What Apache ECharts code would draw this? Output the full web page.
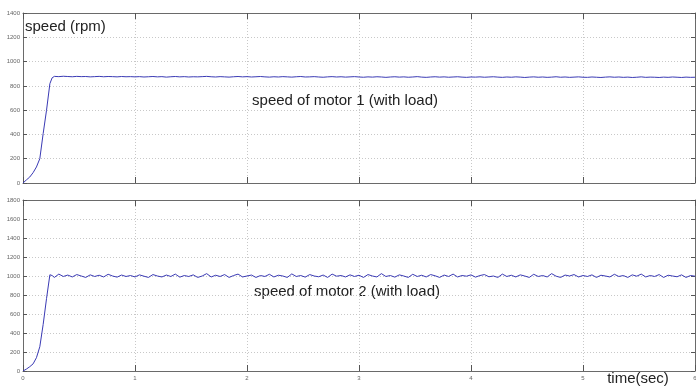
<!DOCTYPE html>
<html>
<head>
<meta charset="utf-8">
<script src="https://cdn.jsdelivr.net/npm/echarts@6/dist/echarts.min.js"></script>
<style>
html,body{margin:0;padding:0;background:#fff;}
#chart{width:696px;height:388px;}
</style>
</head>
<body>
<div id="chart"></div>
<script>
// time samples (s)
const timeSec = [
  0,0.03,0.06,0.09,0.12,0.15,0.18,0.21,0.24,0.26,
  0.28,0.32,0.36,0.40,0.44,0.48,0.52,0.56,0.60,0.64,0.68,0.72,0.76,0.80,0.84,0.88,0.92,0.96,1.00,
  1.04,1.08,1.12,1.16,1.20,1.24,1.28,1.32,1.36,1.40,1.44,1.48,1.52,1.56,1.60,1.64,1.68,1.72,1.76,1.80,1.84,1.88,1.92,1.96,2.00,
  2.04,2.08,2.12,2.16,2.20,2.24,2.28,2.32,2.36,2.40,2.44,2.48,2.52,2.56,2.60,2.64,2.68,2.72,2.76,2.80,2.84,2.88,2.92,2.96,3.00,
  3.04,3.08,3.12,3.16,3.20,3.24,3.28,3.32,3.36,3.40,3.44,3.48,3.52,3.56,3.60,3.64,3.68,3.72,3.76,3.80,3.84,3.88,3.92,3.96,4.00,
  4.04,4.08,4.12,4.16,4.20,4.24,4.28,4.32,4.36,4.40,4.44,4.48,4.52,4.56,4.60,4.64,4.68,4.72,4.76,4.80,4.84,4.88,4.92,4.96,5.00,
  5.04,5.08,5.12,5.16,5.20,5.24,5.28,5.32,5.36,5.40,5.44,5.48,5.52,5.56,5.60,5.64,5.68,5.72,5.76,5.80,5.84,5.88,5.92,5.96,6.00
];
// speed of motor 1 (rpm)
const motor1 = [
  0,25,49,85,132,200,407,599,818,866,
  878,876,879,877,875,878,876,877,874,876,878,875,877,876,874,877,875,876,874,
  876,873,875,877,874,876,872,875,877,874,876,873,875,874,876,878,875,873,876,874,872,875,877,874,876,
  873,875,877,874,872,875,873,876,874,872,875,877,873,874,876,873,871,874,876,873,875,872,874,876,873,
  871,874,872,875,873,870,873,875,872,874,871,873,876,872,870,873,875,872,874,871,873,875,872,870,873,
  872,874,871,873,875,872,870,873,871,874,872,869,872,874,871,873,870,872,875,871,873,870,872,874,871,
  870,873,871,869,872,874,871,873,870,872,869,871,874,870,872,871,869,872,870,873,871,869,872,870,871
];
// speed of motor 2 (rpm)
const motor2 = [
  0,20,45,75,140,255,490,762,1013,1005,
  985,1020,995,1010,990,1015,1000,985,1012,995,1008,990,1018,1000,988,1010,995,1005,990,
  1012,998,985,1015,1000,990,1010,995,1020,988,1005,995,1012,985,1000,1025,990,1008,995,1015,985,1005,1020,990,1000,
  1010,985,1005,995,1018,990,1008,1000,985,1022,995,1005,988,1015,1000,992,1010,985,1020,998,1005,990,1012,995,1008,
  985,1015,1000,990,1025,995,1005,988,1012,1000,985,1018,995,1008,990,1015,1002,985,1010,995,1020,990,1005,998,1012,
  988,1005,1015,992,1000,985,1020,995,1008,990,1012,1000,985,1018,995,1005,990,1025,998,985,1010,1000,1015,990,1005,
  995,1012,985,1008,1000,990,1018,995,1005,985,1012,998,1020,990,1005,995,1015,985,1008,1000,992,1012,985,1005,998
];
const yMax1 = 1400, yMax2 = 1800, yStep = 200;
const xMax = 6, xStep = 1;

const textFont = '"Liberation Sans", Arial, sans-serif';
const pairs = (ys) => timeSec.map((t, i) => [t, ys[i]]);

const frameColor = '#6a6a6a';
const gridLine = { show: true, lineStyle: { color: '#c8c8c8', type: [1, 2], width: 1 } };

function xAx(gridIndex, pos, labels) {
  return {
    type: 'value', gridIndex, position: pos, min: 0, max: xMax, interval: xStep,
    axisLine: { show: true, onZero: false, lineStyle: { color: frameColor, width: 1 } },
    axisTick: { show: true, inside: true, length: 6, lineStyle: { color: '#555', width: 1 } },
    axisLabel: { show: labels, fontSize: 6, color: '#666', margin: 4, fontFamily: textFont, formatter: (v) => String(v) },
    splitLine: pos === 'bottom' ? gridLine : { show: false }
  };
}
function yAx(gridIndex, pos, max, labels) {
  return {
    type: 'value', gridIndex, position: pos, min: 0, max: max, interval: yStep,
    axisLine: { show: true, onZero: false, lineStyle: { color: frameColor, width: 1 } },
    axisTick: { show: true, inside: true, length: 4, lineStyle: { color: '#555', width: 1 } },
    axisLabel: { show: labels, fontSize: 6, color: '#666', margin: 3, fontFamily: textFont, formatter: (v) => String(v) },
    splitLine: pos === 'left' ? gridLine : { show: false }
  };
}

const chart = echarts.init(document.getElementById('chart'), null, { renderer: 'canvas' });
chart.setOption({
  animation: false,
  backgroundColor: '#ffffff',
  grid: [
    { left: 23, top: 13, width: 672, height: 170, containLabel: false, outerBoundsMode: 'none' },
    { left: 23, top: 200, width: 672, height: 171, containLabel: false, outerBoundsMode: 'none' }
  ],
  xAxis: [
    xAx(0, 'bottom', false), xAx(0, 'top', false),
    xAx(1, 'bottom', true), xAx(1, 'top', false)
  ],
  yAxis: [
    yAx(0, 'left', yMax1, true), yAx(0, 'right', yMax1, false),
    yAx(1, 'left', yMax2, true), yAx(1, 'right', yMax2, false)
  ],
  series: [
    { type: 'line', xAxisIndex: 0, yAxisIndex: 0, data: pairs(motor1), showSymbol: false,
      lineStyle: { color: '#3a3ab4', width: 1 }, z: 5 },
    { type: 'line', xAxisIndex: 2, yAxisIndex: 2, data: pairs(motor2), showSymbol: false,
      lineStyle: { color: '#3a3ab4', width: 1 }, z: 5 }
  ],
  graphic: [
    { type: 'text', left: 25, top: 19, style: { text: 'speed (rpm)', font: '15px ' + textFont, fill: '#222' } },
    { type: 'text', x: 345, y: 101, style: { text: 'speed of motor 1 (with load)', font: '15px ' + textFont, fill: '#222', align: 'center', verticalAlign: 'middle' } },
    { type: 'text', x: 347, y: 292, style: { text: 'speed of motor 2 (with load)', font: '15px ' + textFont, fill: '#222', align: 'center', verticalAlign: 'middle' } },
    { type: 'text', x: 638, y: 379, style: { text: 'time(sec)', font: '15px ' + textFont, fill: '#222', align: 'center', verticalAlign: 'middle' } }
  ]
});
</script>
</body>
</html>
